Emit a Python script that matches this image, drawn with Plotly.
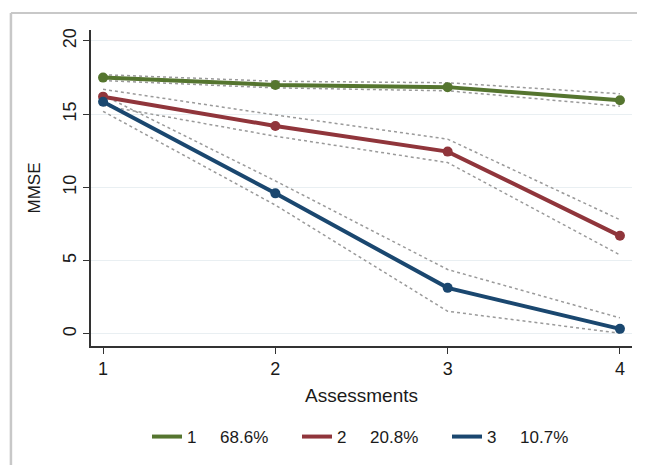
import plotly.graph_objects as go

assessments = [1, 2, 3, 4]
group_names = ["1     68.6%", "2     20.8%", "3     10.7%"]
mmse_g1 = [17.5, 17.0, 16.85, 15.95]
mmse_g2 = [16.2, 14.2, 12.45, 6.7]
mmse_g3 = [15.85, 9.6, 3.15, 0.35]
upper_g1 = [17.7, 17.25, 17.15, 16.4]
lower_g1 = [17.3, 16.8, 16.6, 15.55]
upper_g2 = [16.7, 14.95, 13.3, 7.8]
lower_g2 = [15.6, 13.5, 11.7, 5.4]
upper_g3 = [16.3, 10.45, 4.4, 1.1]
lower_g3 = [15.2, 8.8, 1.55, 0.05]
y_ticks = [0, 5, 10, 15, 20]

colors = ["#55752f", "#90353b", "#1a476f"]
ci_color = "#9a9a9a"

fig = go.Figure()

for up, lo in [(upper_g1, lower_g1), (upper_g2, lower_g2), (upper_g3, lower_g3)]:
    for ci in (up, lo):
        fig.add_trace(go.Scatter(
            x=assessments, y=ci, mode="lines",
            line=dict(color=ci_color, width=1.5, dash="3px,3px"),
            showlegend=False, hoverinfo="skip"))

for name, vals, col in zip(group_names, [mmse_g1, mmse_g2, mmse_g3], colors):
    fig.add_trace(go.Scatter(
        x=assessments, y=vals, mode="lines+markers", name=name,
        line=dict(color=col, width=4),
        marker=dict(color=col, size=10), showlegend=False,
        legendgroup=name))
    # legend entry: line only (as in the original key)
    fig.add_trace(go.Scatter(
        x=[None], y=[None], mode="lines", name=name,
        line=dict(color=col, width=4), legendgroup=name))

font = "Liberation Sans, Arial, sans-serif"

fig.update_layout(
    width=629, height=457,
    paper_bgcolor="white", plot_bgcolor="white",
    margin=dict(l=83, r=5, t=22, b=119),
    font=dict(family=font, size=17, color="#1a1a1a"),
    xaxis=dict(
        range=[0.93, 4.07], tickvals=assessments, ticktext=[str(a) for a in assessments],
        showgrid=False, zeroline=False, showline=True, linecolor="#333", linewidth=1.5,
        ticks="outside", ticklen=6, tickcolor="#333", tickwidth=1.2,
        title=dict(text="Assessments", font=dict(size=19), standoff=10),
        tickfont=dict(size=18),
    ),
    yaxis=dict(
        range=[-0.82, 20.75], tickvals=y_ticks, ticktext=[str(v) for v in y_ticks],
        showgrid=True, gridcolor="#e9eff2", gridwidth=1.2, zeroline=False,
        showline=True, linecolor="#333", linewidth=1.5,
        ticks="outside", ticklen=6, tickcolor="#333", tickwidth=1.2,
        tickangle=-90, tickfont=dict(size=18),
        title=dict(text="MMSE", font=dict(size=17), standoff=15),
    ),
    legend=dict(
        orientation="h", x=0.1035, xanchor="left", y=-0.288, yanchor="middle",
        font=dict(size=17), itemwidth=30, tracegroupgap=0,
        entrywidth=105, entrywidthmode="pixels",
        bgcolor="rgba(0,0,0,0)",
    ),
    shapes=[
        dict(type="line", xref="paper", yref="paper", x0=-0.148, x1=1.1, y0=1.054, y1=1.054,
             line=dict(color="#c8c8c8", width=2)),
        dict(type="line", xref="paper", yref="paper", x0=-0.148, x1=-0.148, y0=1.054, y1=-0.45,
             line=dict(color="#c8c8c8", width=2.5)),
    ],
)

fig.write_html("out.html")
